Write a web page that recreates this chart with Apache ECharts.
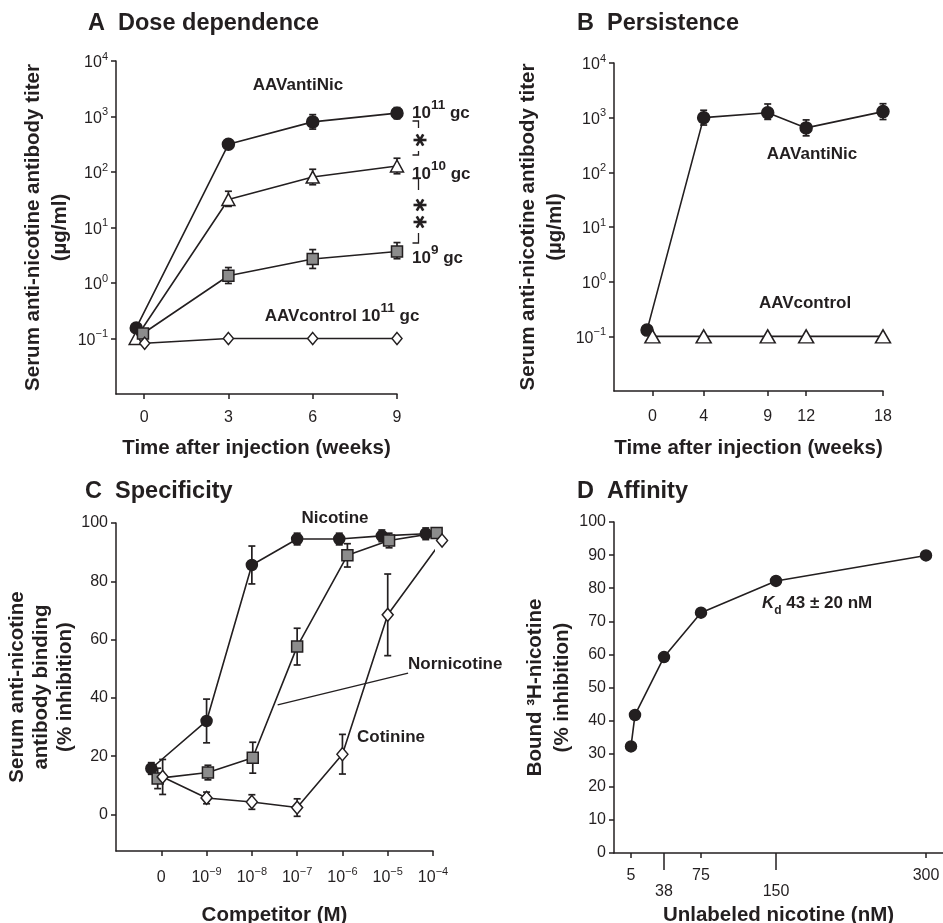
<!DOCTYPE html>
<html>
<head>
<meta charset="utf-8">
<script src="https://cdn.jsdelivr.net/npm/echarts@6/dist/echarts.min.js"></script>
<style>html,body{margin:0;padding:0;background:#fff}#container{width:943px;height:923px}</style>
</head>
<body>
<div id="container"></div>
<script>
// ---- A: dose dependence (x = weeks, y = ug/ml) ----
var aX11 = [-0.28, 3, 6, 9];
var aY11 = [0.155, 316, 800, 1150];
var aLo11 = [null, 263, 593, 913];
var aHi11 = [null, 380, 1080, 1448];

var aX10 = [-0.3, 3, 6, 9];
var aY10 = [0.1, 32, 81, 128];
var aLo10 = [null, 24, 59, 93];
var aHi10 = [null, 45, 112, 177];

var aX9 = [-0.04, 3, 6, 9];
var aY9 = [0.123, 1.35, 2.7, 3.7];
var aLo9 = [null, 0.98, 1.83, 2.74];
var aHi9 = [null, 1.9, 4.0, 5.35];

var aXCtl = [0.02, 3, 6, 9];
var aYCtl = [0.082, 0.1, 0.1, 0.1];
var aTicks = [0, 3, 6, 9];
var logTicks = [0.1, 1, 10, 100, 1000, 10000];

// ---- B: persistence ----
var bXNic = [-0.42, 4, 9, 12, 18];
var bYNic = [0.13, 1000, 1230, 650, 1290];
var bLoNic = [null, 733, 930, 465, 925];
var bHiNic = [null, 1365, 1780, 910, 1800];
var bXCtl = [0, 4, 9, 12, 18];
var bYCtl = [0.1, 0.1, 0.1, 0.1, 0.1];
var bTicks = [0, 4, 9, 12, 18];

// ---- C: specificity (x = position of competitor conc.) ----
var cTicks = [0, 1, 2, 3, 4, 5, 6];
var cNicX = [-0.22, 1, 2, 3, 3.93, 4.87, 5.84];
var cNicY = [15.8, 32.1, 85.6, 94.5, 94.5, 95.6, 96.3];
var cNicErr = [2, 7.5, 6.5, 2, 2, 2, 2];
var cNorX = [-0.08, 1.03, 2.02, 3, 4.11, 5.03, 6.08];
var cNorY = [12.4, 14.4, 19.5, 57.6, 88.9, 94.0, 96.6];
var cNorErr = [3.5, 2.5, 5.3, 6.3, 4, 2.5, 1.5];
var cCotX = [0.03, 1, 2, 3, 4, 5, 6.2];
var cCotY = [12.9, 5.7, 4.3, 2.4, 20.7, 68.5, 94.0];
var cCotErr = [6, 2, 2.5, 3, 6.8, 14, 0];
var cLeadFrom = [2.57, 37.6];
var cLeadTo = [5.45, 48.5];

// ---- D: affinity ----
var dX = [5, 9, 38, 75, 150, 300];
var dY = [32.2, 41.7, 59.2, 72.6, 82.2, 89.9];
var dTicksUpper = [5, 75, 300];
var dTicksLower = [38, 150];

var FONT = '"Liberation Sans", Arial, Helvetica, sans-serif';
var INK = '#231f20';

var supRich = {
    b: {fontSize: 16, lineHeight: 20, verticalAlign: 'bottom', color: INK, fontFamily: FONT},
    s: {fontSize: 11, lineHeight: 20, verticalAlign: 'top', color: INK, fontFamily: FONT}
};
function exp(e) { return e < 0 ? '\u2212' + (-e) : '' + e; }
function logLabel(v) {
    var e = Math.round(Math.log10(v));
    if (e < -1) return '';
    return '{b|10}{s|' + exp(e) + '}';
}
function concLabel(v) {
    if (v === 0) return '{b|0}';
    return '{b|10}{s|' + exp(v - 10) + '}';
}

function axis(gi, o) {
    var a = {
        gridIndex: gi,
        type: o.type || 'value',
        min: o.min, max: o.max,
        axisLine: {show: o.line !== false, onZero: false, lineStyle: {color: INK, width: 1.5}},
        axisTick: {show: true, inside: false, length: o.tickLen || 5, lineStyle: {color: INK, width: 1.5}},
        axisLabel: {color: INK, fontSize: 16, fontFamily: FONT, margin: o.margin || 8},
        splitLine: {show: false},
        minorTick: {show: false},
        name: o.name || '',
        nameLocation: 'middle',
        nameGap: o.nameGap || 30,
        nameTextStyle: {color: INK, fontSize: 20.5, fontWeight: 'bold', fontFamily: FONT, lineHeight: o.nameLH || 24}
    };
    if (o.position) a.position = o.position;
    if (o.type === 'log') a.logBase = 10;
    if (o.interval) a.interval = o.interval;
    if (o.ticks) {
        a.axisTick.customValues = o.ticks;
        a.axisLabel.customValues = o.ticks;
    }
    if (o.formatter) {
        a.axisLabel.formatter = o.formatter;
        a.axisLabel.rich = supRich;
    }
    if (o.rotate) a.nameRotate = 90;
    return a;
}

function errData(xs, los, his) {
    var out = [];
    xs.forEach(function (x, i) { if (los[i] != null) out.push([x, los[i], his[i]]); });
    return out;
}
function symErr(xs, ys, es) {
    var out = [];
    xs.forEach(function (x, i) { if (es[i] > 0) out.push([x, ys[i] - es[i], ys[i] + es[i]]); });
    return out;
}
function errSeries(gi, data) {
    return {
        type: 'custom', xAxisIndex: gi, yAxisIndex: gi, data: data, silent: true, z: 1, clip: false,
        encode: {x: 0, y: [1, 2]},
        renderItem: function (params, api) {
            var x = api.value(0);
            var top = api.coord([x, api.value(2)]);
            var bot = api.coord([x, api.value(1)]);
            var w = 3.5;
            var st = {stroke: INK, lineWidth: 1.7};
            return {type: 'group', children: [
                {type: 'line', shape: {x1: top[0], y1: top[1], x2: bot[0], y2: bot[1]}, style: st},
                {type: 'line', shape: {x1: top[0] - w, y1: top[1], x2: top[0] + w, y2: top[1]}, style: st},
                {type: 'line', shape: {x1: bot[0] - w, y1: bot[1], x2: bot[0] + w, y2: bot[1]}, style: st}
            ]};
        }
    };
}
function lineSeries(gi, xs, ys, symbol, size, fill) {
    return {
        type: 'line', xAxisIndex: gi, yAxisIndex: gi, clip: false,
        data: xs.map(function (x, i) { return [x, ys[i]]; }),
        symbol: symbol, symbolSize: size, showAllSymbol: true, silent: true, z: 2,
        itemStyle: {color: fill, borderColor: INK, borderWidth: 1.5, opacity: 1},
        lineStyle: {color: INK, width: 1.6}
    };
}

function txt(x, y, text, size, align, rich) {
    var el = {type: 'text', x: x, y: y, silent: true, style: {
        text: text, fill: INK, font: 'bold ' + size + 'px ' + FONT,
        align: align || 'left', verticalAlign: 'middle'
    }};
    if (rich) el.style.rich = rich;
    return el;
}
var gcRich = {
    b: {fontSize: 17, fontWeight: 'bold', lineHeight: 23, verticalAlign: 'bottom', fontFamily: FONT, color: INK},
    s: {fontSize: 13.5, fontWeight: 'bold', lineHeight: 23, verticalAlign: 'top', fontFamily: FONT, color: INK}
};
var kdRich = {
    k: {fontSize: 17, fontWeight: 'bold', fontStyle: 'italic', lineHeight: 22, verticalAlign: 'top', fontFamily: FONT, color: INK},
    d: {fontSize: 12, fontWeight: 'bold', lineHeight: 22, verticalAlign: 'bottom', fontFamily: FONT, color: INK},
    t: {fontSize: 17, fontWeight: 'bold', lineHeight: 22, verticalAlign: 'top', fontFamily: FONT, color: INK}
};
function bracket(pts) {
    return {type: 'polyline', silent: true, shape: {points: pts}, style: {stroke: INK, lineWidth: 1.3, fill: null}};
}
function star(cx, cy) {
    var r = 6.5, segs = [];
    [0, 60, 120].forEach(function (d) {
        var a = d * Math.PI / 180;
        segs.push({type: 'line', silent: true, shape: {
            x1: cx - r * Math.cos(a), y1: cy - r * Math.sin(a),
            x2: cx + r * Math.cos(a), y2: cy + r * Math.sin(a)
        }, style: {stroke: INK, lineWidth: 2.6}});
    });
    return segs;
}

var chart = echarts.init(document.getElementById('container'));
var option = {
    animation: false,
    backgroundColor: '#fff',
    grid: [
        {left: 116, top: 61, width: 281, height: 333, containLabel: false, outerBoundsMode: 'none'},
        {left: 614, top: 63, width: 269, height: 328, containLabel: false, outerBoundsMode: 'none'},
        {left: 116, top: 523, width: 317, height: 328, containLabel: false, outerBoundsMode: 'none'},
        {left: 614, top: 522, width: 329, height: 331, containLabel: false, outerBoundsMode: 'none'}
    ],
    xAxis: [
        axis(0, {min: -1, max: 9, ticks: aTicks, margin: 16, name: 'Time after injection (weeks)', nameGap: 42}),
        axis(1, {min: -3, max: 18, ticks: bTicks, margin: 18, name: 'Time after injection (weeks)', nameGap: 45}),
        axis(2, {min: -1, max: 6, ticks: cTicks, margin: 15, formatter: concLabel, name: 'Competitor (M)', nameGap: 52}),
        axis(3, {min: -12, max: 317, ticks: dTicksUpper, margin: 15, position: 'bottom', name: 'Unlabeled nicotine (nM)', nameGap: 50}),
        axis(3, {min: -12, max: 317, ticks: dTicksLower, margin: 31, tickLen: 17, position: 'bottom', line: false})
    ],
    yAxis: [
        axis(0, {type: 'log', min: 0.01, max: 10000, ticks: logTicks, formatter: logLabel, rotate: true, nameLH: 27,
            name: 'Serum anti-nicotine antibody titer\n(\u00b5g/ml)', nameGap: 41}),
        axis(1, {type: 'log', min: 0.01, max: 10000, ticks: logTicks, formatter: logLabel, rotate: true, nameLH: 27,
            name: 'Serum anti-nicotine antibody titer\n(\u00b5g/ml)', nameGap: 45}),
        axis(2, {min: -12.5, max: 100, ticks: [0, 20, 40, 60, 80, 100], rotate: true, nameLH: 24,
            name: 'Serum anti-nicotine\nantibody binding\n(% inhibition)', nameGap: 25}),
        axis(3, {min: 0, max: 100, interval: 10, rotate: true, nameLH: 27,
            name: 'Bound \u00b3H-nicotine\n(% inhibition)', nameGap: 31})
    ],
    series: [
        errSeries(0, errData(aX11, aLo11, aHi11)),
        errSeries(0, errData(aX10, aLo10, aHi10)),
        errSeries(0, errData(aX9, aLo9, aHi9)),
        lineSeries(0, aX11, aY11, 'circle', 12, INK),
        lineSeries(0, aX10, aY10, 'triangle', [13, 12], '#fff'),
        lineSeries(0, aX9, aY9, 'rect', 11, '#8c8c8c'),
        lineSeries(0, aXCtl, aYCtl, 'diamond', [10, 12], '#fff'),

        errSeries(1, errData(bXNic, bLoNic, bHiNic)),
        lineSeries(1, bXNic, bYNic, 'circle', 12, INK),
        lineSeries(1, bXCtl, bYCtl, 'triangle', [15, 13], '#fff'),

        errSeries(2, symErr(cNicX, cNicY, cNicErr)),
        errSeries(2, symErr(cNorX, cNorY, cNorErr)),
        errSeries(2, symErr(cCotX, cCotY, cCotErr)),
        lineSeries(2, cNicX, cNicY, 'circle', 11, INK),
        (function () {
            var s = lineSeries(2, cNorX, cNorY, 'rect', 11, '#8c8c8c');
            s.markLine = {
                silent: true, symbol: ['none', 'none'], label: {show: false},
                lineStyle: {color: INK, width: 1.3, type: 'solid'},
                data: [[{coord: cLeadFrom}, {coord: cLeadTo}]]
            };
            return s;
        })(),
        lineSeries(2, cCotX, cCotY, 'diamond', [11, 13], '#fff'),

        lineSeries(3, dX, dY, 'circle', 11, INK)
    ],
    graphic: [
        txt(88, 23.5, 'A  Dose dependence', 23.5),
        txt(577, 24, 'B  Persistence', 23.5),
        txt(85, 492, 'C  Specificity', 23.5),
        txt(577, 492, 'D  Affinity', 23.5),

        txt(298, 85, 'AAVantiNic', 17, 'center'),
        txt(412, 110, '{b|10}{s|11}{b| gc}', 17, 'left', gcRich),
        txt(412, 171, '{b|10}{s|10}{b| gc}', 17, 'left', gcRich),
        txt(412, 255, '{b|10}{s|9}{b| gc}', 17, 'left', gcRich),
        txt(342, 313, '{b|AAVcontrol 10}{s|11}{b| gc}', 17, 'center', gcRich),
        bracket([[412.5, 121], [418.5, 121], [418.5, 128]]),
        bracket([[418.5, 151], [418.5, 155], [412.5, 155]]),
        bracket([[412.5, 178.5], [418.5, 178.5], [418.5, 190]]),
        bracket([[418.5, 233], [418.5, 243], [412.5, 243]])
    ].concat(star(420, 140), star(420, 205), star(420, 222), [
        txt(812, 154, 'AAVantiNic', 17, 'center'),
        txt(805, 303, 'AAVcontrol', 17, 'center'),

        txt(335, 518, 'Nicotine', 17, 'center'),
        txt(408, 664, 'Nornicotine', 17, 'left'),
        txt(357, 737, 'Cotinine', 17, 'left'),

        txt(762, 606, '{k|K}{d|d}{t| 43 \u00b1 20 nM}', 17, 'left', kdRich)
    ])
};
chart.setOption(option, {notMerge: true});
</script>
</body>
</html>
